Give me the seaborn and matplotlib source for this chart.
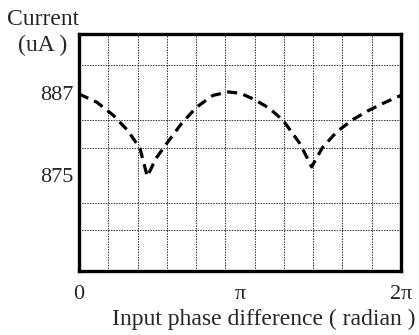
import numpy as np
import pandas as pd
import matplotlib
matplotlib.use("Agg")
import matplotlib.pyplot as plt
import seaborn as sns

# Data (phase in radians, current in uA)
phase = [0.0, 0.35, 0.67, 0.95, 1.19, 1.333, 1.50, 1.711, 2.00, 2.297, 2.615, 2.913,
         3.15, 3.395, 3.70, 3.98, 4.31, 4.54, 4.75, 5.03, 5.35, 5.65, 5.95, 6.283]
current = [886.8, 885.6, 883.7, 881.5, 878.9, 874.8, 877.4, 879.6, 882.5, 884.9, 886.6, 887.1,
           886.9, 886.1, 884.8, 883.0, 879.6, 876.2, 879.0, 881.3, 883.1, 884.4, 885.5, 886.6]
xtick_vals = [0, np.pi, 2 * np.pi]
xtick_labels = ["0", "π", "2π"]
ytick_vals = [887, 875]
ytick_labels = ["887", "875"]

df = pd.DataFrame({"phase": phase, "current": current})

sns.set_theme(style="white")
plt.rcParams['font.family'] = ['Liberation Serif', 'DejaVu Serif']

fig = plt.figure(figsize=(4.19, 3.35), dpi=100)
ax = fig.add_axes([0.1885, 0.192, 0.957 - 0.1885, 0.9 - 0.192])

sns.lineplot(data=df, x="phase", y="current", ax=ax, color="black",
             linewidth=2.3, linestyle=(0, (3.2, 2.0)), zorder=3)

ax.set_xlim(0, 2 * np.pi)
ax.set_ylim(861.1, 895.6)

# grid via minor ticks
ax.set_xticks(np.linspace(0, 2 * np.pi, 12)[1:-1], minor=True)
ax.set_yticks([867, 871, 875, 879, 883, 887, 891], minor=True)
ax.grid(which="minor", color="black", linestyle=(0, (1.5, 1.2)), linewidth=0.7, alpha=0.8)
ax.grid(which="major", visible=False)

ax.set_xticks(xtick_vals)
ax.set_xticklabels(xtick_labels, fontsize=16)
ax.set_yticks(ytick_vals)
ax.set_yticklabels(ytick_labels, fontsize=16)
ax.tick_params(axis="x", which="both", length=0, pad=10)
ax.tick_params(axis="y", which="both", length=0, pad=4)

for s in ax.spines.values():
    s.set_visible(True)
    s.set_color("black")
    s.set_linewidth(2.4)

ax.set_xlabel("")
ax.set_ylabel("")
fig.text(0.63, 0.03, "Input phase difference ( radian )", fontsize=17,
         ha="center", va="baseline")
fig.text(0.0167, 0.925, "Current", fontsize=17, ha="left", va="baseline")
fig.text(0.043, 0.848, "(uA )", fontsize=17, ha="left", va="baseline")

fig.savefig("out.png", dpi=100, facecolor="white")
